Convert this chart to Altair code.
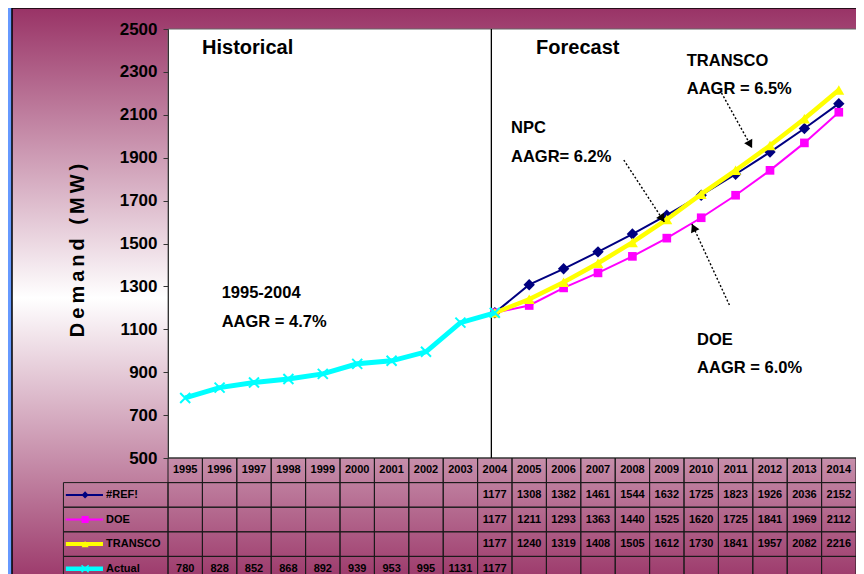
import altair as alt
import pandas as pd
import numpy as np

# ---------------- data ----------------
years = list(range(1995, 2015))
actual_years = list(range(1995, 2005))
actual = [780, 828, 852, 868, 892, 939, 953, 995, 1131, 1177]
fc_years = list(range(2004, 2015))
ref = [1177, 1308, 1382, 1461, 1544, 1632, 1725, 1823, 1926, 2036, 2152]
doe = [1177, 1211, 1293, 1363, 1440, 1525, 1620, 1725, 1841, 1969, 2112]
transco = [1177, 1240, 1319, 1408, 1505, 1612, 1730, 1841, 1957, 2082, 2216]

series_names = ["#REF!", "DOE", "TRANSCO", "Actual"]
y_ticks = list(range(500, 2501, 200))

# annotation texts (data units)
head_text = ["Historical", "Forecast"]
head_x = [1995.49, 2005.2]
head_y = [2411, 2411]
note_text = ["TRANSCO", "AAGR = 6.5%", "NPC", "AAGR= 6.2%",
             "1995-2004", "AAGR = 4.7%", "DOE", "AAGR = 6.0%"]
note_x = [2009.58, 2009.58, 2004.47, 2004.47, 1996.06, 1996.06, 2009.88, 2009.88]
note_y = [2351, 2220, 2038, 1903, 1269, 1134, 1050, 920]
divider_year = 2003.9
arrow_x0 = [2007.75, 2010.59, 2010.82]
arrow_y0 = [1889, 2202, 1213]
arrow_x1 = [2008.93, 2011.48, 2009.73]
arrow_y1 = [1600, 1945, 1591]

# ---------------- layout / style ----------------
W, H = 688, 429
ROW_H = 24.6
X_DOMAIN = [1994.5, 2014.5]
Y_DOMAIN = [500, 2500]
FONT = "Liberation Sans, Arial, sans-serif"
MAROON = "#993366"
BLUE = "#6699FF"

xs = alt.Scale(domain=X_DOMAIN, nice=False, zero=False)
ys = alt.Scale(domain=Y_DOMAIN, nice=False, zero=False)
ts = alt.Scale(domain=[-0.5, 4.5], range=[H, H + 5 * ROW_H], nice=False, zero=False)

y_axis = alt.Axis(values=y_ticks, format="d", labelFont=FONT, labelFontSize=17, labelFontWeight="bold",
                  labelColor="black", tickSize=5, tickColor="#333", domainColor="#333",
                  labelPadding=6, grid=False, zindex=1,
                  title="D\u2009e\u2009m\u2009a\u2009n\u2009d\u2009 \u2009(\u2009M\u2009W\u2009)",
                  titleFont=FONT, titleFontSize=20, titleFontWeight="bold", titleColor="black",
                  titleX=-91, titleY=221, titleAngle=270, titleAlign="center",
                  titleBaseline="middle")


def X(f):
    return alt.X(f, type="quantitative", scale=xs, axis=None)


def Y(f):
    return alt.Y(f, type="quantitative", scale=ys, axis=y_axis)


def TY(f):
    return alt.Y(f, type="quantitative", scale=ts, axis=None)


one = pd.DataFrame({"a": [0]})

gradient = alt.Gradient(
    gradient="linear", x1=0, y1=0, x2=0, y2=1,
    stops=[alt.GradientStop(offset=0, color=MAROON),
           alt.GradientStop(offset=0.5, color="#FFFFFF"),
           alt.GradientStop(offset=1, color=MAROON)])

bg = alt.Chart(one).mark_rect(color=gradient, stroke="black", strokeWidth=1.5).encode(
    x=alt.value(-156), x2=alt.value(W + 20), y=alt.value(-21), y2=alt.value(H + 130))
plot_bg = alt.Chart(one).mark_rect(fill="white", stroke="#666", strokeWidth=1).encode(
    x=alt.value(0), x2=alt.value(W + 20), y=alt.value(0), y2=alt.value(H))

# series frames
df_act = pd.DataFrame({"year": actual_years, "v": actual})
df_ref = pd.DataFrame({"year": fc_years, "v": ref})
df_doe = pd.DataFrame({"year": fc_years, "v": doe})
df_tr = pd.DataFrame({"year": fc_years, "v": transco})

XPATH = "M-1,-1L1,1M-1,1L1,-1"

styles = {
    "#REF!": dict(color="#000080", sw=2, shape="diamond", size=130, filled=True),
    "DOE": dict(color="#FF00FF", sw=2, shape="square", size=75, filled=True),
    "TRANSCO": dict(color="#FFFF00", sw=4.5, shape="triangle-up", size=120, filled=True),
    "Actual": dict(color="#00FFFF", sw=5, shape=XPATH, size=100, filled=False),
}
frames = {"#REF!": df_ref, "DOE": df_doe, "TRANSCO": df_tr, "Actual": df_act}

series_layers = []
for name in series_names:
    st = styles[name]
    base = alt.Chart(frames[name])
    line = base.mark_line(color=st["color"], strokeWidth=st["sw"]).encode(x=X("year"), y=Y("v"))
    if st["filled"]:
        pts = base.mark_point(shape=st["shape"], size=st["size"], filled=True, opacity=1,
                              color=st["color"]).encode(x=X("year"), y=Y("v"))
    else:
        pts = base.mark_point(shape=st["shape"], size=st["size"], filled=False, opacity=1,
                              color=st["color"], strokeWidth=2).encode(x=X("year"), y=Y("v"))
    series_layers += [line, pts]

divider = alt.Chart(pd.DataFrame({"x": [divider_year], "y0": [Y_DOMAIN[0]], "y1": [Y_DOMAIN[1]]})).mark_rule(
    color="black", strokeWidth=1.3).encode(x=X("x"), y=Y("y0"), y2="y1")

# arrows
px_per_year = W / (X_DOMAIN[1] - X_DOMAIN[0])
px_per_mw = H / (Y_DOMAIN[1] - Y_DOMAIN[0])
ax0, ay0 = np.array(arrow_x0), np.array(arrow_y0)
ax1, ay1 = np.array(arrow_x1), np.array(arrow_y1)
dx = (ax1 - ax0) * px_per_year
dy = -(ay1 - ay0) * px_per_mw
ln = np.hypot(dx, dy)
ux, uy = dx / ln, dy / ln
ang = np.degrees(np.arctan2(dx, -dy)) % 360
df_arrow = pd.DataFrame({"x0": ax0, "y0": ay0, "x1": ax1, "y1": ay1,
                         "hx": ax1 - 4 * ux / px_per_year, "hy": ay1 + 4 * uy / px_per_mw,
                         "ang": ang})
arrow_lines = alt.Chart(df_arrow).mark_rule(color="black", strokeWidth=1.4, strokeDash=[2, 2]).encode(
    x=X("x0"), y=Y("y0"), x2="x1", y2="y1")
arrow_heads = alt.Chart(df_arrow).mark_point(shape="triangle-up", size=85, filled=True, opacity=1,
                                             color="black").encode(
    x=X("hx"), y=Y("hy"), angle=alt.Angle("ang:Q", scale=None))

heads = alt.Chart(pd.DataFrame({"x": head_x, "y": head_y, "t": head_text})).mark_text(
    align="left", baseline="middle", font=FONT, fontSize=20, fontWeight="bold", color="black").encode(
    x=X("x"), y=Y("y"), text="t:N")
notes = alt.Chart(pd.DataFrame({"x": note_x, "y": note_y, "t": note_text})).mark_text(
    align="left", baseline="middle", font=FONT, fontSize=16.5, fontWeight="bold", color="black").encode(
    x=X("x"), y=Y("y"), text="t:N")

main = alt.layer(bg, plot_bg, divider, *series_layers, arrow_lines, arrow_heads, heads, notes)

# ---------------- data table ----------------
LEG_X0 = 1991.46
cells = []
for yr in years:
    for r in range(5):
        cells.append({"x0": yr - 0.5, "x1": yr + 0.5, "r0": r - 0.5, "r1": r + 0.5})
for r in range(1, 5):
    cells.append({"x0": LEG_X0, "x1": X_DOMAIN[0], "r0": r - 0.5, "r1": r + 0.5})
df_cells = pd.DataFrame(cells)
cell_rects = alt.Chart(df_cells).mark_rect(filled=False, color="#1a1a1a", strokeWidth=1).encode(
    x=X("x0"), x2="x1", y=TY("r0"), y2="r1")

txt = [{"x": yr, "r": 0, "t": str(yr)} for yr in years]
for i, name in enumerate(series_names):
    yrs = actual_years if name == "Actual" else fc_years
    for yr, v in zip(yrs, frames[name]["v"]):
        txt.append({"x": yr, "r": i + 1, "t": str(v)})
table_text = alt.Chart(pd.DataFrame(txt)).mark_text(
    align="center", baseline="middle", font=FONT, fontSize=11, fontWeight="bold", color="black").encode(
    x=X("x"), y=TY("r"), text="t:N")

leg_rows = list(range(1, 5))
df_leg = pd.DataFrame({"name": series_names, "r": leg_rows,
                       "lx0": [1991.53] * 4, "lx1": [1992.61] * 4,
                       "mx": [1992.09] * 4, "tx": [1992.70] * 4})
leg_layers = []
for name in series_names:
    st = styles[name]
    d = alt.Chart(df_leg[df_leg["name"] == name])
    leg_layers.append(d.mark_rule(color=st["color"], strokeWidth=max(2, st["sw"] - 0.5)).encode(
        x=X("lx0"), x2="lx1", y=TY("r")))
    if st["filled"]:
        leg_layers.append(d.mark_point(shape=st["shape"], size=50, filled=True, opacity=1,
                                       color=st["color"]).encode(x=X("mx"), y=TY("r")))
    else:
        leg_layers.append(d.mark_point(shape=st["shape"], size=50, filled=False, opacity=1,
                                       color=st["color"], strokeWidth=1.5).encode(x=X("mx"), y=TY("r")))
leg_text = alt.Chart(df_leg).mark_text(
    align="left", baseline="middle", font=FONT, fontSize=11, fontWeight="bold", color="black").encode(
    x=X("tx"), y=TY("r"), text="name:N")

table = alt.layer(cell_rects, table_text, *leg_layers, leg_text)

chart = alt.layer(main, table).resolve_scale(y="independent").properties(
    width=W, height=H,
    autosize=alt.AutoSizeParams(type="none"),
    padding={"left": 160, "top": 21, "right": 0, "bottom": 120},
    background=BLUE,
).configure_view(stroke=None)

chart.save("out.html", embed_options={"renderer": "svg", "actions": False})
